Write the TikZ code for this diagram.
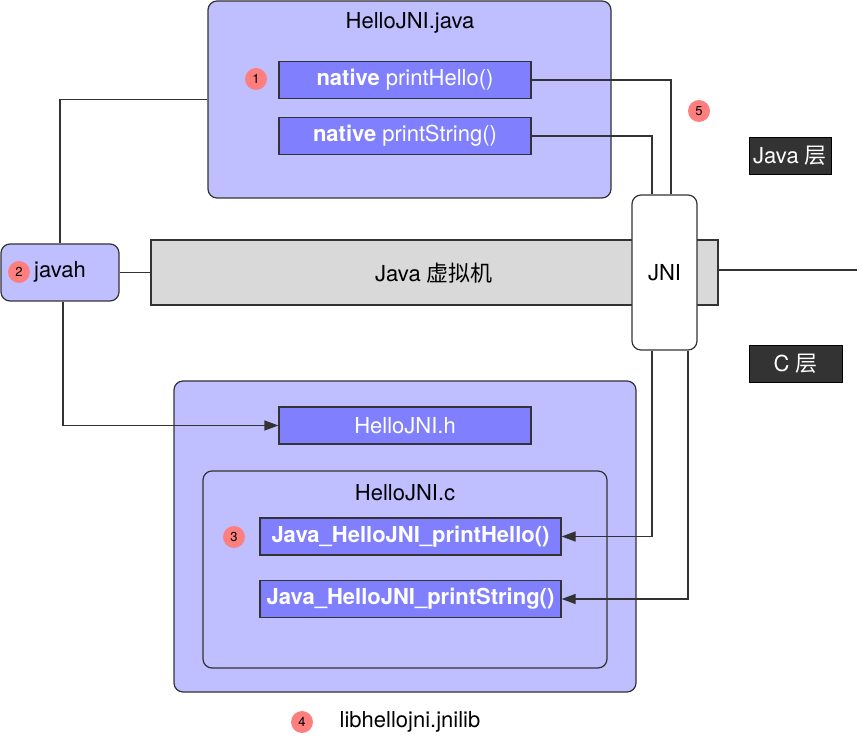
\documentclass[tikz,border=0pt]{standalone}
\usepackage{fontspec}
\setmainfont{TeX Gyre Heros}
\newfontfamily\cjk{Noto Sans CJK SC}
\usetikzlibrary{calc,arrows.meta}
\definecolor{lav}{HTML}{BFBFFF}
\definecolor{fnblue}{HTML}{8080FF}
\definecolor{vmgray}{HTML}{D9D9D9}
\definecolor{edge}{HTML}{333333}
\definecolor{badgered}{HTML}{FF7F7F}
\tikzset{
    filebox/.style={draw=edge, line width=1.2pt, fill=lav, rounded corners=9pt},
    fnbox/.style={draw=edge, line width=1.2pt, fill=fnblue, text=white, minimum width=252pt, minimum height=37pt, inner sep=0pt},
    badge/.style={circle, fill=badgered, minimum size=22pt, inner sep=0pt, font=\fontsize{13}{13}\selectfont},
    layer/.style={draw=black, fill=edge, text=white, minimum height=37pt, inner sep=0pt},
    wire/.style={draw=edge, line width=1.2pt},
    arr/.style={wire, -{Triangle[length=14pt,width=10pt]}}
}
\begin{document}
\begin{tikzpicture}[x=1pt, y=-1pt, font=\fontsize{22}{24}\selectfont]
    \useasboundingbox (0,0) rectangle (863,743);
    % java side
    \node[filebox, minimum width=403pt, minimum height=197pt] (javafile) at (409.5,99.5) {};
    \node (javatitle) at (410,23) {HelloJNI.java};
    \node[badge] (b1) at (256,79) {1};
    \node[fnbox] (nhello) at (405,80) {\textbf{native} printHello()};
    \node[fnbox] (nstring) at (405,136) {\textbf{native} printString()};
    % virtual machine
    \node[draw=edge, line width=1.2pt, fill=vmgray, minimum width=567pt, minimum height=65pt, inner sep=0pt] (jvm) at (434.5,272.5) {};
    \node (jvmtext) at (434,273) {Java {\cjk 虚拟机}};
    \node[draw=edge, line width=1.2pt, fill=white, rounded corners=9pt, minimum width=65pt, minimum height=155pt, inner sep=0pt] (jni) at (664.5,272.5) {JNI};
    \coordinate (rightend) at (857,270);
    \draw[wire] (jvm.east |- rightend) -- (rightend);
    % javah
    \node[filebox, minimum width=118pt, minimum height=57pt, inner sep=0pt] (javah) at (60,272.5) {};
    \node[badge] (b2) at (19,272) {2};
    \node (javahtext) at (60,272) {javah};
    % c side
    \node[filebox, minimum width=462pt, minimum height=311pt] (cfile) at (405,536.5) {};
    \node[fnbox] (hfile) at (405,425.5) {HelloJNI.h};
    \node[filebox, minimum width=404pt, minimum height=197pt] (csrc) at (405,569.5) {};
    \node (ctitle) at (405,493) {HelloJNI.c};
    \node[badge] (b3) at (234,537) {3};
    \node[fnbox, minimum width=301pt, font=\fontsize{22}{24}\selectfont\bfseries] (chello) at (410.5,536.5) {Java\_HelloJNI\_printHello()};
    \node[fnbox, minimum width=301pt, font=\fontsize{22}{24}\selectfont\bfseries] (cstring) at (410.5,599) {Java\_HelloJNI\_printString()};
    \node[badge] (b4) at (302,722) {4};
    \node (lib) at (410,722) {libhellojni.jnilib};
    % layers
    \node[badge] (b5) at (699,111) {5};
    \node[layer, minimum width=82pt] (javalayer) at (790,155.5) {Java {\cjk 层}};
    \node[layer, minimum width=93pt] (clayer) at (795.5,364) {C {\cjk 层}};
    % connectors
    \draw[wire] (nhello.east) -| ($(jni.north)+(6.5,0)$);
    \draw[wire] (nstring.east) -| ($(jni.north)+(-12.5,0)$);
    \draw[wire] (javah.east) -- (javah.east -| jvm.west);
    \draw[wire] (javah.north) |- (javafile.west);
    \draw[arr] ($(javah.south)+(3,0)$) |- (hfile.west);
    \draw[arr] ($(jni.south)+(-12.5,0)$) |- (chello.east);
    \draw[arr] ($(jni.south)+(23.5,0)$) |- (cstring.east);
\end{tikzpicture}
\end{document}
